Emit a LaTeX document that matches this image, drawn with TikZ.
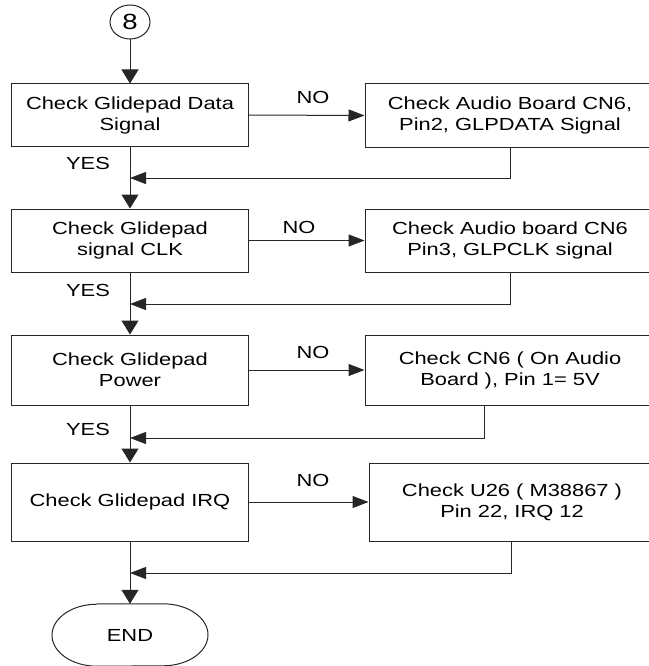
\documentclass[tikz,border=0pt]{standalone}
\usepackage{fontspec}
\setmainfont{Liberation Sans}[FakeStretch=1.25]
\usetikzlibrary{arrows.meta,shapes.geometric}

\tikzset{
  txt/.style={font=\fontsize{17.5bp}{21bp}\selectfont, align=center, inner sep=0pt},
  stepbox/.style={txt, draw=black!85, line width=1bp, minimum width=236bp, anchor=center},
  actbox/.style={txt, draw=black!85, line width=1bp, anchor=center},
  lbl/.style={txt},
  link/.style={draw=black!85, line width=1bp},
  down/.style={link, -{Triangle[length=14bp,width=17bp]}},
  back/.style={link, -{Triangle[length=16bp,width=12bp]}},
}

\begin{document}
\begin{tikzpicture}[x=1bp, y=-1bp]
  \useasboundingbox (0,0) rectangle (649,666);
  \clip (0,0) rectangle (649,666);

  % entry connector
  \node[ellipse, draw=black!85, line width=1bp, minimum width=40bp, minimum height=34bp,
        inner sep=0pt, font=\fontsize{22bp}{22bp}\selectfont] (c8) at (130,22) {8};

  % checks on the left
  \node[stepbox, minimum height=62bp] (b1) at (130,115) {Check Glidepad Data\\Signal};
  \node[stepbox, minimum height=63bp] (b2) at (130,240.5) {Check Glidepad\\signal CLK};
  \node[stepbox, minimum height=70bp] (b3) at (130,370) {Check Glidepad\\Power};
  \node[stepbox, minimum height=78bp] (b4) at (130,502) {Check Glidepad IRQ};

  % actions on the right
  \node[actbox, minimum width=290bp, minimum height=63bp] (r1) at (510,115.5) {Check Audio Board CN6,\\Pin2, GLPDATA Signal};
  \node[actbox, minimum width=290bp, minimum height=63bp] (r2) at (510,240.5) {Check Audio board CN6\\Pin3, GLPCLK signal};
  \node[actbox, minimum width=290bp, minimum height=70bp] (r3) at (510,370) {Check CN6 ( On Audio\\Board ), Pin 1= 5V};
  \node[actbox, minimum width=286bp, minimum height=78bp] (r4) at (512,502) {Check U26 ( M38867 )\\Pin 22, IRQ 12};

  % terminal
  \node[txt, minimum width=156bp, minimum height=62bp] (endn) at (130,635) {END};
  \draw[link] ([xshift=-33bp]endn.north) -- ([xshift=33bp]endn.north)
     arc[start angle=90, end angle=-90, x radius=45bp, y radius=31bp]
     -- ([xshift=-33bp]endn.south)
     arc[start angle=270, end angle=90, x radius=45bp, y radius=31bp];

  % merge points on the main line
  \coordinate (j1) at (130,178);
  \coordinate (j2) at (130,304);
  \coordinate (j3) at (130,438);
  \coordinate (j4) at (130,573);
  \coordinate (t1) at (510,178);
  \coordinate (t2) at (510,304);
  \coordinate (t3) at (484,438);
  \coordinate (t4) at (511,573);

  % main flow
  \draw[down] (c8) -- (b1.north);
  \draw[down] (b1.south) -- (b2.north);
  \draw[down] (b2.south) -- (b3.north);
  \draw[down] (b3.south) -- (b4.north);
  \draw[down] (b4.south) -- (endn.north);

  % NO branches
  \draw[back] (b1.east) -- (r1.west);
  \draw[back] (b2.east) -- (r2.west);
  \draw[back] (b3.east) -- (r3.west);
  \draw[back] (b4.east) -- (r4.west);

  % returns to the main line
  \draw[back] (r1.south -| t1) -- (t1) -- (j1);
  \draw[back] (r2.south -| t2) -- (t2) -- (j2);
  \draw[back] (r3.south -| t3) -- (t3) -- (j3);
  \draw[back] (r4.south -| t4) -- (t4) -- (j4);

  % branch labels
  \node[lbl] (no1) at (313,97) {NO};
  \node[lbl] (no2) at (299,227) {NO};
  \node[lbl] (no3) at (313,352) {NO};
  \node[lbl] (no4) at (313,480) {NO};
  \node[lbl] (yes1) at (88,163) {YES};
  \node[lbl] (yes2) at (88,290) {YES};
  \node[lbl] (yes3) at (88,429) {YES};
\end{tikzpicture}
\end{document}
